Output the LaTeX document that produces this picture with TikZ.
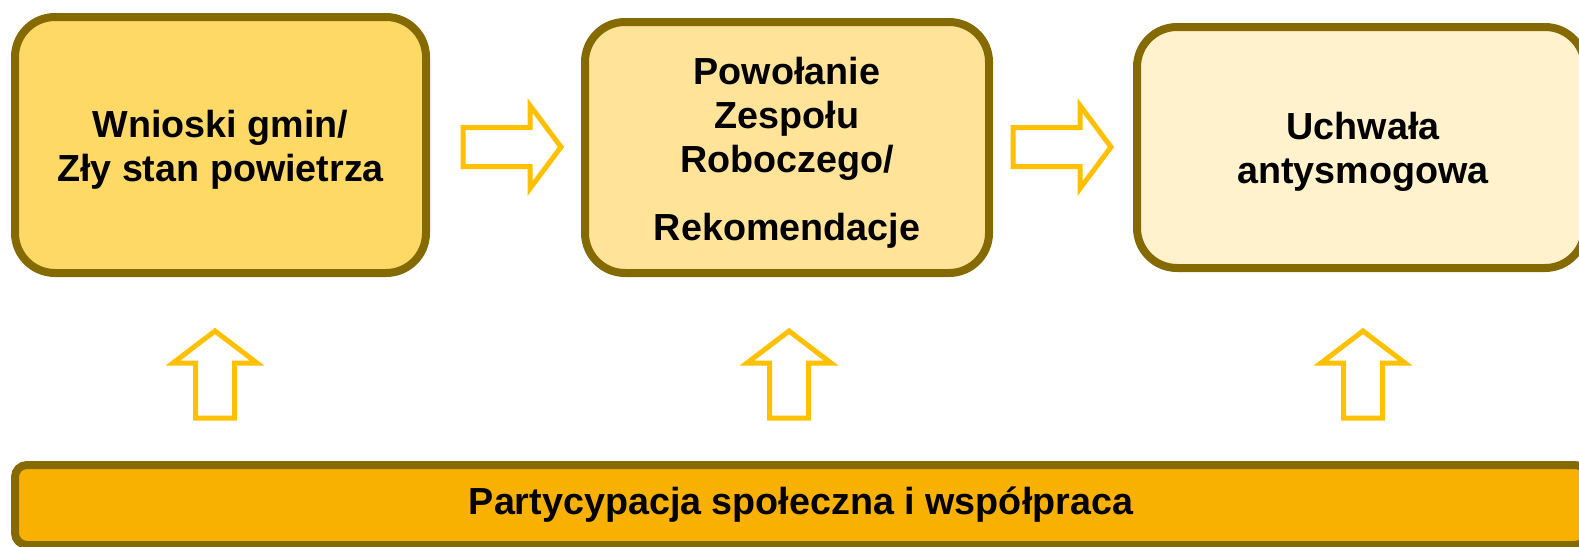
\documentclass[tikz,border=0pt]{standalone}
\usepackage{fontspec}
\setmainfont{Liberation Sans}
\definecolor{olivebd}{HTML}{846A00}
\definecolor{fillA}{HTML}{FFD966}
\definecolor{fillB}{HTML}{FFE399}
\definecolor{fillC}{HTML}{FFF2CC}
\definecolor{barfill}{HTML}{F8B100}
\definecolor{arrowcol}{HTML}{FFC000}
\begin{document}
\begin{tikzpicture}[x=1pt,y=-1pt,
  stage/.style={draw=olivebd, line width=8pt, rounded corners=40pt, inner sep=0pt},
  stagetext/.style={inner sep=0pt, align=center, font=\fontsize{37.7}{44}\selectfont\bfseries},
  barbox/.style={draw=olivebd, line width=8pt, rounded corners=12pt, inner sep=0pt,
    fill=barfill, font=\fontsize{37.7}{44}\selectfont\bfseries},
  blockarrow/.style={draw=arrowcol, line width=5pt, fill=white, miter limit=10}]
\useasboundingbox (0,0) rectangle (1579,546);
\clip (0,0) rectangle (1579,546);
\node[stage, fill=fillA, minimum width=411pt, minimum height=256pt] (b1) at (220.5,145) {};
\node[stagetext] (t1) at ([yshift=-5pt]b1.center) {Wnioski gmin/\\Zły stan powietrza};
\node[stage, fill=fillB, minimum width=404pt, minimum height=251pt] (b2) at (787,147.5) {};
\node[stagetext] (t2) at ([yshift=-5pt]b2.center) {Powołanie\\Zespołu\\Roboczego/\\[24pt]Rekomendacje};
\node[stage, fill=fillC, minimum width=448pt, minimum height=241pt] (b3) at (1361,147.5) {};
\node[stagetext] (t3) at ([xshift=2pt,yshift=-4pt]b3.center) {Uchwała\\antysmogowa};
\node[barbox, minimum width=1572pt, minimum height=80pt] (bar) at (801,505) {Partycypacja społeczna i współpraca};
% right block arrows
\coordinate (r1) at (463,147);
\coordinate (r2) at (1013,147);
\foreach \c in {r1,r2}{
  \draw[blockarrow, shift={(\c)}] (0,-19.5) -- (67,-19.5) -- (67,-41.5) -- (98,0) -- (67,41.5) -- (67,19.5) -- (0,19.5) -- cycle;
}
% up block arrows
\coordinate (u1) at (215,331);
\coordinate (u2) at (789,331);
\coordinate (u3) at (1363,331);
\foreach \c in {u1,u2,u3}{
  \draw[blockarrow, shift={(\c)}] (0,0) -- (42,32) -- (19.5,32) -- (19.5,87) -- (-19.5,87) -- (-19.5,32) -- (-42,32) -- cycle;
}
\end{tikzpicture}
\end{document}
